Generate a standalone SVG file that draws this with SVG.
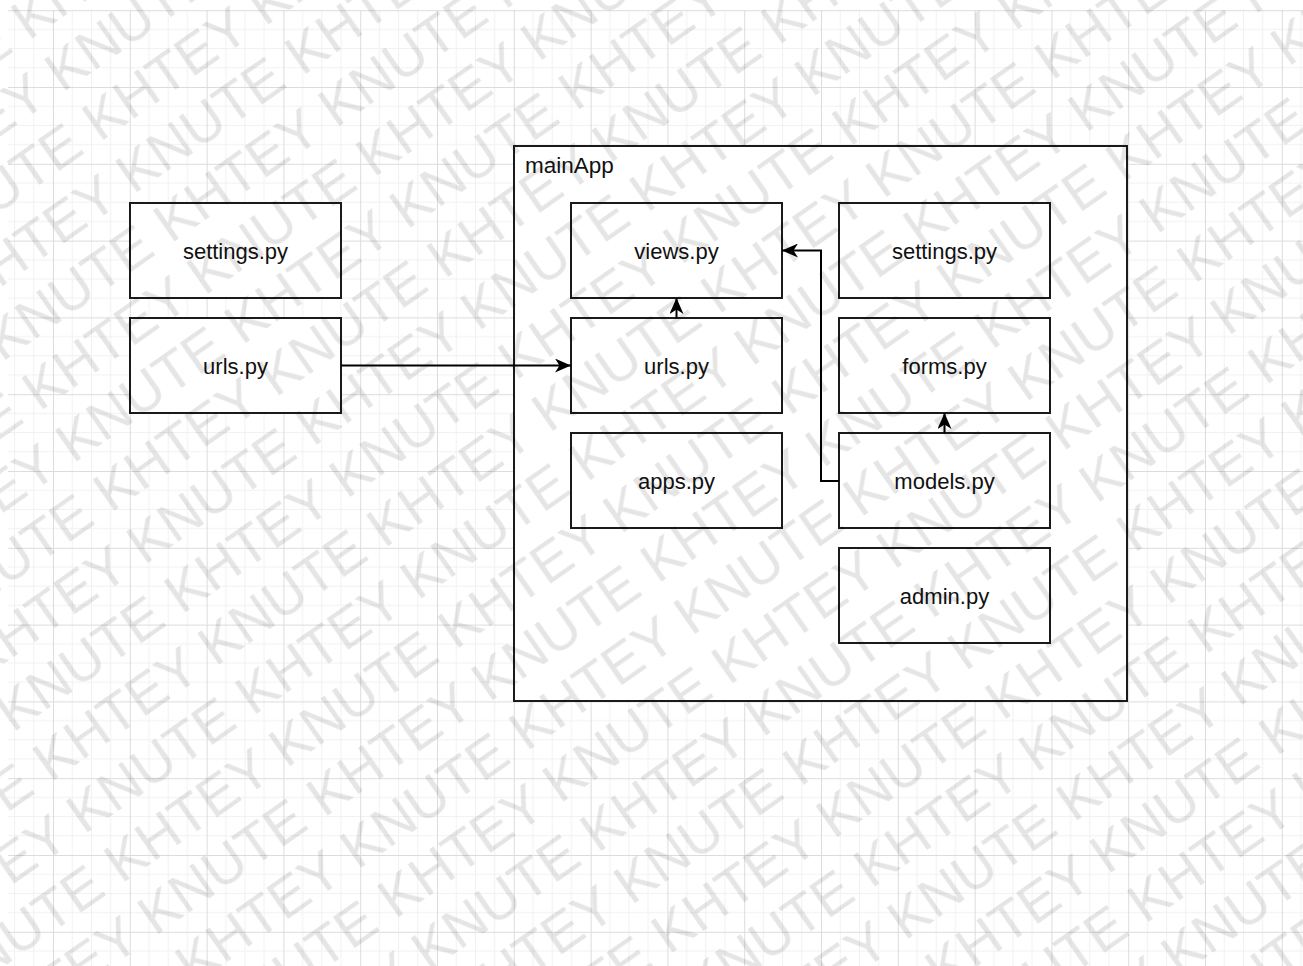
<svg xmlns="http://www.w3.org/2000/svg" width="1303" height="966" viewBox="0 0 1303 966">
  <defs>
    <!-- background grid: minor 19.2px, major 76.8px -->
    <pattern id="grid" x="53" y="10.2" width="76.8" height="76.8" patternUnits="userSpaceOnUse">
      <path d="M19.2 0V76.8M38.4 0V76.8M57.6 0V76.8M0 19.2H76.8M0 38.4H76.8M0 57.6H76.8" stroke="#f1f1f1" stroke-width="1" fill="none"/>
      <path d="M0.5 0V76.8M0 0.5H76.8" stroke="#dcdcdc" stroke-width="1" fill="none"/>
    </pattern>
    <!-- tiled diagonal watermark; rows are repeated across the tile edge so it wraps seamlessly -->
    <pattern id="wm" x="0" y="0" width="407.6" height="124" patternUnits="userSpaceOnUse" patternTransform="rotate(-35)">
      <text class="wm" x="-407.6" y="50">KHTEY KNUTE</text>
      <text class="wm" x="0" y="50">KHTEY KNUTE</text>
      <text class="wm" x="407.6" y="50">KHTEY KNUTE</text>
      <text class="wm" x="-203.8" y="112">KHTEY KNUTE</text>
      <text class="wm" x="203.8" y="112">KHTEY KNUTE</text>
    </pattern>
    <marker id="arrow" viewBox="0 0 16 14" refX="16" refY="7" markerWidth="16" markerHeight="14" markerUnits="userSpaceOnUse" orient="auto">
      <path d="M0 0L16 7L0 14L4.5 7Z" fill="#000"/>
    </marker>
  </defs>
  <style>
    .box { fill: #fff; stroke: #1a1a1a; stroke-width: 2; }
    .lbl { font-family: "Liberation Sans", Arial, sans-serif; font-size: 22px; fill: #111; text-anchor: middle; }
    .title { font-family: "Liberation Sans", Arial, sans-serif; font-size: 22.5px; fill: #111; }
    .edge { fill: none; stroke: #000; stroke-width: 2; marker-end: url(#arrow); }
    .wm { font-family: "Liberation Sans", Arial, sans-serif; font-size: 56px; fill: #000; fill-opacity: 0.1; }
  </style>

  <rect width="1303" height="966" fill="#fff"/>
  <rect x="8" y="10" width="1295" height="956" fill="url(#grid)"/>

  <!-- container -->
  <g id="mainApp">
    <rect class="box" x="514" y="146" width="613" height="555"/>
    <text class="title" x="525" y="173">mainApp</text>
  </g>

  <g id="settings-left">
    <rect class="box" x="130" y="203" width="211" height="95"/>
    <text class="lbl" x="235.5" y="258.5">settings.py</text>
  </g>
  <g id="urls-left">
    <rect class="box" x="130" y="318" width="211" height="95"/>
    <text class="lbl" x="235.5" y="373.5">urls.py</text>
  </g>

  <g id="views">
    <rect class="box" x="571" y="203" width="211" height="95"/>
    <text class="lbl" x="676.5" y="258.5">views.py</text>
  </g>
  <g id="urls">
    <rect class="box" x="571" y="318" width="211" height="95"/>
    <text class="lbl" x="676.5" y="373.5">urls.py</text>
  </g>
  <g id="apps">
    <rect class="box" x="571" y="433" width="211" height="95"/>
    <text class="lbl" x="676.5" y="488.5">apps.py</text>
  </g>

  <g id="settings">
    <rect class="box" x="839" y="203" width="211" height="95"/>
    <text class="lbl" x="944.5" y="258.5">settings.py</text>
  </g>
  <g id="forms">
    <rect class="box" x="839" y="318" width="211" height="95"/>
    <text class="lbl" x="944.5" y="373.5">forms.py</text>
  </g>
  <g id="models">
    <rect class="box" x="839" y="433" width="211" height="95"/>
    <text class="lbl" x="944.5" y="488.5">models.py</text>
  </g>
  <g id="admin">
    <rect class="box" x="839" y="548" width="211" height="95"/>
    <text class="lbl" x="944.5" y="603.5">admin.py</text>
  </g>

  <g id="connectors">
    <path class="edge" d="M341 365.5H571"/>
    <path class="edge" d="M676.5 318V298"/>
    <path class="edge" d="M839 481H821V250.5H782"/>
    <path class="edge" d="M944.5 433V413"/>
  </g>

  <!-- watermark overlay across the whole sheet -->
  <rect id="watermark" width="1303" height="966" fill="url(#wm)"/>
</svg>
